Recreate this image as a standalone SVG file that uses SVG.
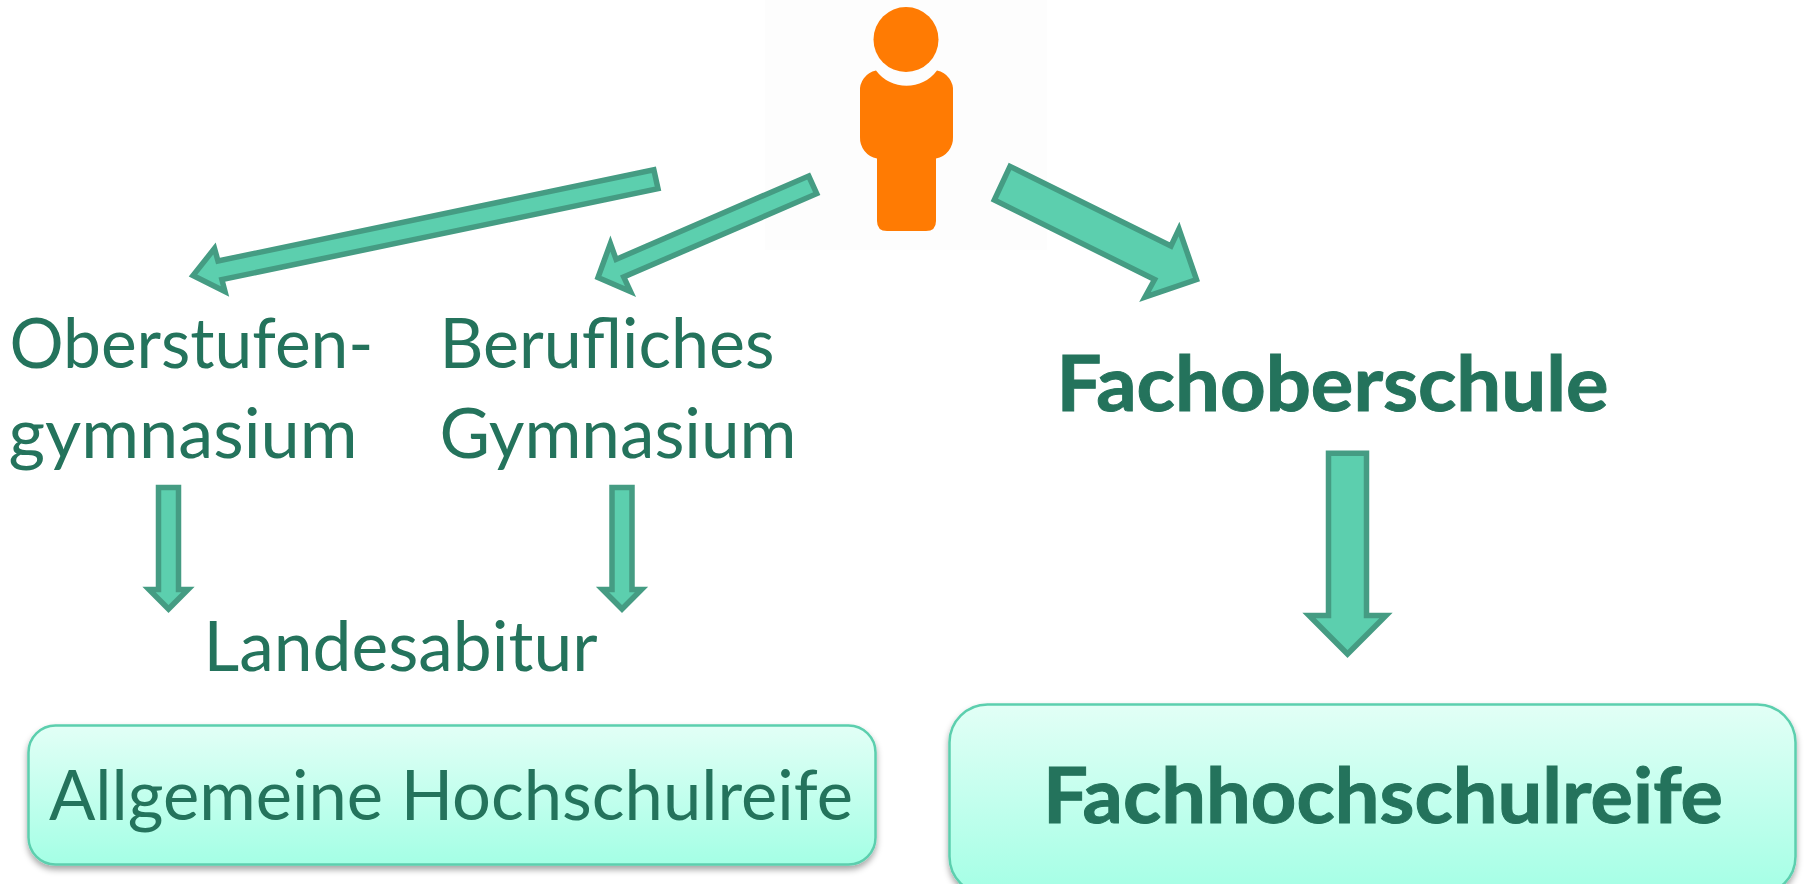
<svg xmlns="http://www.w3.org/2000/svg" width="1804" height="884" viewBox="0 0 1804 884">
<style>
.arrow{fill:#5ccfae;stroke:#459c83;stroke-width:5.5;stroke-miterlimit:10;stroke-linejoin:miter}
.box{fill:url(#boxGrad);stroke:#5ccfae;stroke-width:2.5;filter:url(#shadow)}
text{font-family:"Lato","Carlito","Open Sans",sans-serif;fill:#24735c}
.r{font-size:70px}
.b{font-size:77px;font-weight:700;stroke:#24735c;stroke-width:1}
</style>
<defs>
<linearGradient id="boxGrad" x1="0" y1="0" x2="0" y2="1"><stop offset="0" stop-color="#e2fff6"/><stop offset="1" stop-color="#a4ffe5"/></linearGradient>
<filter id="shadow" x="-5%" y="-10%" width="110%" height="125%"><feDropShadow dx="0" dy="4" stdDeviation="3" flood-color="#000" flood-opacity="0.35"/></filter>
</defs>
<rect width="1804" height="884" fill="#fff"/>
<g id="person">
<rect x="765" y="0" width="282" height="250" fill="#fdfdfd"/>
<circle cx="906" cy="39.5" r="32.5" fill="#ff7b03"/>
<path fill="#ff7b03" d="M876 70.5A38 38 0 0 0 937 70.5A20 20 0 0 1 953 92V137A21 21 0 0 1 936 158.5V221Q936 231 926 231H887Q877 231 877 221V158.5A21 21 0 0 1 860 137V92A20 20 0 0 1 876 70.5Z"/>
</g>
<g id="connectors">
<polygon class="arrow" points="653.8,169.7 658,188.7 221.9,279.6 225,291.5 193,275.5 214.5,248.5 218,261"/>
<polygon class="arrow" points="808.7,176 816.7,193.7 623.7,277 630.5,291.5 598,277.5 610.4,243.5 616.1,259.4"/>
<polygon class="arrow" points="1010,166.4 994.3,200 1154.6,279.5 1145,297 1196.5,279.5 1179,229 1171,246"/>
<polygon class="arrow" points="158.5,487.5 178.5,487.5 178.5,589.5 188,589.5 168.5,609 149,589.5 158.5,589.5"/>
<polygon class="arrow" points="612,487.5 632,487.5 632,589.5 641.5,589.5 622,609 602.5,589.5 612,589.5"/>
<polygon class="arrow" points="1328.5,453.3 1366.5,453.3 1366.5,615.5 1386,615.5 1347.5,654 1309,615.5 1328.5,615.5"/>
</g>
<g id="oberstufe"><text class="r" x="9.5" y="368" textLength="364" lengthAdjust="spacingAndGlyphs">Oberstufen-</text><text class="r" x="8.5" y="458" textLength="349" lengthAdjust="spacingAndGlyphs">gymnasium</text></g>
<g id="beruflich"><text class="r" x="439.5" y="368" textLength="335" lengthAdjust="spacingAndGlyphs">Berufliches</text><text class="r" x="439.5" y="458" textLength="357" lengthAdjust="spacingAndGlyphs">Gymnasium</text></g>
<g id="landesabitur"><text class="r" x="203.5" y="671" textLength="394" lengthAdjust="spacingAndGlyphs">Landesabitur</text></g>
<g id="fachoberschule"><text class="b" x="1056.5" y="411" textLength="552" lengthAdjust="spacingAndGlyphs">Fachoberschule</text></g>
<g id="hochschulreife"><rect class="box" x="28.5" y="725.5" width="847" height="139" rx="27"/><text class="r" x="49" y="820" textLength="804" lengthAdjust="spacingAndGlyphs">Allgemeine Hochschulreife</text></g>
<g id="fachhochschulreife"><rect class="box" x="949.5" y="704.5" width="846" height="190" rx="38"/><text class="b" x="1043" y="823" textLength="680" lengthAdjust="spacingAndGlyphs">Fachhochschulreife</text></g>
</svg>
